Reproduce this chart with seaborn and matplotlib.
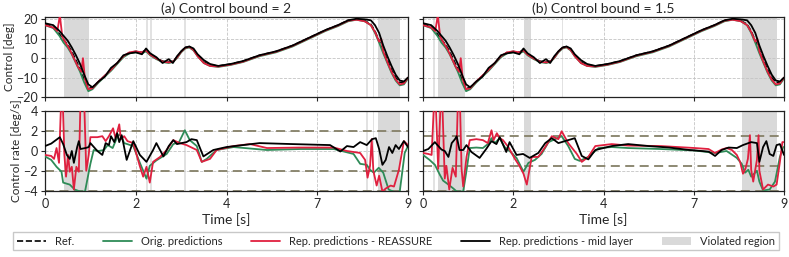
import numpy as np
import pandas as pd
import matplotlib
matplotlib.use("Agg")
import matplotlib.pyplot as plt
import seaborn as sns
from matplotlib.lines import Line2D
from matplotlib.patches import Patch

# ---- control [deg] (top row, same reference in both panels) ----
t_top = [0, 0.2, 0.35, 0.45, 0.55, 0.65, 0.75, 0.85, 0.95, 1.05,
         1.15, 1.3, 1.45, 1.6, 1.75, 1.9, 2.05, 2.2, 2.35, 2.45,
         2.55, 2.7, 2.85, 3.0, 3.1, 3.2, 3.3, 3.4, 3.5, 3.6,
         3.7, 3.85, 4.0, 4.2, 4.5, 4.8, 5.2, 5.6, 6.0, 6.4,
         6.8, 7.1, 7.35, 7.55, 7.75, 7.9, 8.0, 8.1, 8.2, 8.3,
         8.4, 8.5, 8.6, 8.7, 8.8]
ref_ctrl = [17.5, 16, 12.5, 9.5, 7, 3.5, -1, -5.5, -11, -15.5,
            -15, -12, -9, -6, -2.5, 1, 3, 3.5, 3, 4.5,
            2, 0, -1.5, -2, -1.5, 0.5, 3.5, 5.5, 6, 4.5,
            1.5, -2, -3.5, -4, -3, -1.5, 1.5, 3.5, 6.5, 10.5,
            14.5, 17, 19.5, 20, 19.3, 17.5, 14, 9, 4, -1,
            -6, -10, -12.5, -12.5, -10]
orig_ctrl = [17, 15.5, 11.5, 8, 5.5, 2, -2.5, -7, -12.5, -17,
             -16, -12.5, -9.5, -6.5, -3, 0.5, 2.5, 3, 2.5, 3.5,
             1.5, -0.5, -2, -2.5, -2, 0, 3, 5, 5.5, 4,
             1, -2.5, -4, -4.5, -3.5, -2, 1, 3, 6, 10,
             14, 16.5, 19, 19.8, 19, 17, 13, 8, 2.5, -2.5,
             -7.5, -11.5, -14, -13.5, -10.5]
mid_ctrl = [18, 17, 14, 11.5, 9, 5.5, 1.5, -3, -8.5, -13.5,
            -15, -12, -9.5, -5, -2.5, 1.5, 2.5, 3, 2, 5,
            2.5, 0.5, -2.5, -0.5, -2.5, 1, 3.5, 5.5, 6, 5,
            2, -1, -3, -4, -3, -1.5, 1.5, 3.5, 6.5, 10.5,
            14.5, 17, 19.5, 20.3, 20, 19.5, 17, 13, 6.5, 1,
            -4, -8.5, -11.5, -12, -10]
t_rea = [0, 0.2, 0.3, 0.36, 0.42, 0.5, 0.6, 0.7, 0.8, 0.88,
         0.92, 0.97, 1.05, 1.15, 1.3, 1.45, 1.6, 1.75, 1.9, 2.05,
         2.2, 2.35, 2.45, 2.55, 2.7, 2.85, 3.0, 3.1, 3.2, 3.3,
         3.4, 3.5, 3.6, 3.7, 3.85, 4.0, 4.2, 4.5, 4.8, 5.2,
         5.6, 6.0, 6.4, 6.8, 7.1, 7.35, 7.55, 7.75, 7.9, 8.0,
         8.1, 8.15, 8.2, 8.3, 8.4, 8.5, 8.6, 8.7, 8.8]
rea_ctrl = [17, 15.8, 14, 22, 11, 8, 4.5, 0, -4.5, -7,
            0, -11, -16, -15.5, -12, -9, -6, -2.5, 1, 3,
            3.5, 3, 4, 1.8, -0.2, -1.8, -2.2, -1.8, 0.3, 3.3,
            5.3, 5.8, 4.2, 1, -2.5, -4, -4.3, -3.3, -1.8, 1.3,
            3.3, 6.3, 10.3, 14.3, 16.8, 19.3, 19.8, 19, 17, 13.5,
            8.5, 10, 3.5, -2, -7, -11, -13.5, -13, -10]

# ---- control rate [deg/s], panel (a) ----
t_orig_a = [0, 0.15, 0.28, 0.4, 0.44, 0.6, 0.72, 0.85, 0.97, 1.1,
            1.18, 1.3, 1.43, 1.52, 1.64, 1.76, 1.82, 1.92, 2.14, 2.3,
            2.46, 2.54, 2.7, 2.95, 3.11, 3.25, 3.39, 3.51, 3.68, 3.8,
            3.92, 4.16, 4.57, 5.38, 6.19, 7.0, 7.48, 7.64, 7.8, 7.88,
            7.97, 8.09, 8.2, 8.33, 8.49, 8.6, 8.72, 8.8]
orig_rate_a = [-0.55, -0.9, -1.6, -2.1, -3.2, -3.4, -3.9, -4.1, -4.1, -1.3,
               0.1, 0.0, 0.1, 0.6, 0.3, 1.5, 1.7, 0.8, 0.5, -1.2,
               -2.8, -1.5, -0.95, -0.3, 0.7, 0.9, 2.1, 1.1, 0.5, -1.1,
               -0.8, 0.1, 0.4, 0.1, 0.2, 0.2, -0.3, -1.3, -1.4, -1.9,
               -2.2, -1.7, -2.2, -3.9, -4.2, -4.1, -0.2, 0.5]
t_rea_a = [0, 0.15, 0.22, 0.28, 0.34, 0.39, 0.43, 0.47, 0.51, 0.56,
           0.6, 0.65, 0.7, 0.76, 0.82, 0.86, 0.91, 0.95, 1.0, 1.06,
           1.1, 1.27, 1.39, 1.47, 1.55, 1.65, 1.71, 1.8, 1.84, 1.92,
           2.0, 2.14, 2.3, 2.38, 2.46, 2.54, 2.62, 2.79, 2.95, 3.11,
           3.27, 3.43, 3.68, 3.8, 4.0, 4.16, 4.57, 4.97, 5.38, 6.19,
           7.0, 7.32, 7.64, 7.76, 7.82, 7.88, 7.92, 7.96, 8.04, 8.1,
           8.18, 8.26, 8.38, 8.46, 8.58, 8.7, 8.8]
rea_rate_a = [-0.4, -0.5, -0.8, 0.3, -1.2, 5, 5, -0.4, -2.6, -0.4,
              -2.1, -1.6, -3.9, -1.6, -2.1, 5, 5, 5, -2.0, -0.4,
              1.4, 1.4, 1.5, 1.0, 1.5, 2.3, 1.3, 2.7, 1.2, 1.5,
              1.0, 0.8, -1.55, -2.6, -1.6, -3.2, -1.1, -0.6, 0.1, 1.1,
              0.8, 0.6, 0.1, -1.1, -0.8, 0.1, 0.5, 0.7, 0.3, 0.35,
              0.35, 0.0, -0.2, -0.9, -2.7, -1.5, 1.2, -2.0, -3.5, -2.5,
              -4.1, -3.8, -3.5, -3.6, -1.9, 1.0, 0.6]
t_mid_a = [0, 0.15, 0.36, 0.44, 0.53, 0.6, 0.65, 0.7, 0.78, 0.82,
           0.86, 0.98, 1.06, 1.1, 1.27, 1.39, 1.47, 1.55, 1.6, 1.68,
           1.75, 1.8, 1.86, 1.98, 2.14, 2.3, 2.46, 2.62, 2.7, 2.87,
           3.0, 3.11, 3.2, 3.31, 3.43, 3.55, 3.68, 3.84, 4.08, 4.4,
           4.8, 5.2, 6.0, 6.91, 7.16, 7.32, 7.48, 7.64, 7.8, 7.93,
           8.02, 8.1, 8.18, 8.26, 8.34, 8.42, 8.5, 8.58, 8.7, 8.8]
mid_rate_a = [0.5, 0.75, 1.4, 0.7, -0.4, -0.8, 0.0, -1.2, 0.4, 1.0,
              0.2, 0.3, 0.4, 0.8, 0.0, -0.4, 0.8, 0.6, 1.5, 0.9,
              1.8, 0.9, 1.6, -0.9, 1.0, -0.4, -1.1, 0.1, 0.8, -0.55,
              0.5, 1.1, 0.7, 0.8, 0.9, 1.2, 1.1, -0.55, 0.1, 0.4,
              0.6, 0.8, 0.7, 0.6, -0.05, 0.5, 0.4, 0.9, 0.6, 1.2,
              1.3, 0.2, -1.4, -0.9, 0.4, -0.2, 0.6, 0.2, 1.0, 0.4]

# ---- control rate [deg/s], panel (b) ----
t_orig_b = [0, 0.16, 0.29, 0.41, 0.49, 0.62, 0.74, 0.82, 0.98, 1.06,
            1.14, 1.3, 1.46, 1.58, 1.67, 1.75, 1.87, 1.99, 2.11, 2.28,
            2.45, 2.57, 2.73, 2.89, 3.06, 3.22, 3.38, 3.54, 3.7, 3.82,
            4.03, 4.28, 4.6, 5.0, 5.8, 6.63, 7.12, 7.4, 7.65, 7.77,
            7.85, 7.93, 8.0, 8.14, 8.2, 8.29, 8.45, 8.58, 8.7, 8.78, 8.8]
orig_rate_b = [-0.4, -0.9, -1.4, -2.4, -3.0, -3.4, -3.8, -4.1, -4.1, -2.0,
               0.3, 0.35, 0.3, 0.7, 1.3, 0.8, 1.3, 0.4, 0.0, -0.7,
               -2.1, -1.2, -0.9, -0.3, 0.9, 1.2, 1.5, 0.5, -0.8, -1.0,
               -0.6, 0.3, 0.4, 0.3, 0.2, 0.05, -0.2, 0.0, -0.7, -1.3,
               -2.2, -1.9, -2.6, -2.0, -3.1, -4.0, -3.9, -3.1, -0.6, 0.4, 0.4]
t_rea_b = [0, 0.13, 0.21, 0.27, 0.31, 0.37, 0.43, 0.47, 0.53, 0.57,
           0.64, 0.72, 0.8, 0.85, 0.9, 0.94, 0.98, 1.06, 1.14, 1.3,
           1.46, 1.58, 1.67, 1.72, 1.8, 1.87, 1.95, 2.08, 2.24, 2.35,
           2.45, 2.53, 2.65, 2.81, 2.98, 3.14, 3.3, 3.38, 3.54, 3.75,
           3.87, 4.03, 4.2, 4.6, 5.0, 5.8, 6.63, 6.96, 7.12, 7.28,
           7.4, 7.53, 7.65, 7.73, 7.8, 7.86, 7.92, 7.97, 8.0, 8.05,
           8.14, 8.18, 8.2, 8.29, 8.41, 8.54, 8.62, 8.7, 8.76, 8.8]
rea_rate_b = [-0.2, -0.3, -0.4, 5, 5, -1.8, 5, 5, -2.8, -1.5,
              -3.9, -1.7, -2.6, 5, 5, -1.8, -3.6, -0.6, 1.1, 1.2,
              1.1, 0.8, 2.1, 1.1, 1.8, 1.3, 1.1, 0.4, -0.8, -1.5,
              -2.3, -3.4, -0.6, -0.6, 0.4, 1.5, 1.2, 2.0, 0.8, -0.3,
              -1.1, -0.6, 0.5, 0.7, 0.55, 0.5, 0.3, 0.2, -0.2, 0.15,
              0.3, 0.1, -0.4, -1.1, -2.3, -1.8, -0.8, 1.6, -1.9, -3.1,
              -0.9, 1.6, -2.0, -3.9, -3.4, -3.6, -3.4, -1.1, 0.9, 0.9]
t_mid_b = [0, 0.13, 0.29, 0.33, 0.45, 0.53, 0.62, 0.7, 0.78, 0.82,
           0.89, 0.98, 1.06, 1.18, 1.38, 1.54, 1.67, 1.79, 1.87, 2.03,
           2.11, 2.28, 2.44, 2.6, 2.81, 2.98, 3.14, 3.3, 3.46, 3.7,
           3.87, 4.03, 4.2, 4.6, 5.0, 5.5, 6.0, 6.5, 6.96, 7.12,
           7.28, 7.45, 7.65, 7.8, 8.0, 8.14, 8.2, 8.29, 8.37, 8.45,
           8.54, 8.62, 8.7, 8.8]
mid_rate_b = [0.0, 0.2, 0.9, 0.7, 0.15, 0.0, -0.6, 0.8, 1.2, 1.5,
              0.1, 0.1, 0.6, -0.1, -0.7, 0.2, 1.0, 0.7, 1.4, -0.1,
              0.9, -0.4, -0.3, -0.7, -0.2, 0.8, 1.3, 0.8, 1.0, 1.3,
              -0.5, -0.85, 0.1, 0.5, 0.7, 0.5, 0.35, 0.1, -0.06, -0.5,
              0.1, 0.35, 0.3, 0.6, 0.9, 0.8, -1.1, 0.4, 1.0, -0.3,
              -0.5, 0.6, 0.7, -0.4]

# violated regions (start, end) and thin single-step violations
regions_a = [(0.45, 1.06), (8.07, 8.61)]
thin_a = [2.47, 2.57, 3.40, 7.80, 7.96]
regions_b = [(0.37, 1.03), (2.47, 2.63), (7.77, 8.64)]
thin_b = [0.27, 3.40]

bounds = [2, 1.5]
titles = ["(a) Control bound = 2", "(b) Control bound = 1.5"]
xtick_labels = ["0", "2", "4", "7", "9"]

C_ORIG = "#2e8b57"
C_REA = "#e0203f"
C_MID = "black"
C_SPAN = "#d9d9d9"
C_BOUND = "#858068"

sns.set_style("ticks")
plt.rcParams["font.family"] = ["Lato", "DejaVu Sans"]

fig = plt.figure(figsize=(7.89, 2.57), dpi=100)
lefts = [45 / 789, 423 / 789]
widths = [363 / 789, 361 / 789]
top_axes = [fig.add_axes([l, 1 - 97 / 257, w, 80 / 257]) for l, w in zip(lefts, widths)]
bot_axes = [fig.add_axes([l, 1 - 191 / 257, w, 80 / 257]) for l, w in zip(lefts, widths)]

panel_rate = [
    (t_orig_a, orig_rate_a, t_rea_a, rea_rate_a, t_mid_a, mid_rate_a),
    (t_orig_b, orig_rate_b, t_rea_b, rea_rate_b, t_mid_b, mid_rate_b),
]
panel_regions = [(regions_a, thin_a), (regions_b, thin_b)]

for i in range(2):
    ax_t, ax_b = top_axes[i], bot_axes[i]
    regs, thins = panel_regions[i]
    for ax in (ax_t, ax_b):
        for a, b in regs:
            ax.axvspan(a, b, color=C_SPAN, lw=0, zorder=0)
        for c in thins:
            ax.axvspan(c - 0.02, c + 0.02, color="#e2e2e2", lw=0, zorder=0)
        ax.grid(True, ls="--", lw=0.6, color="#c4c4c4")
        ax.set_axisbelow(True)
        ax.set_xlim(0, 8.8)
        ax.set_xticks(np.linspace(0, 8.8, 5))
        ax.tick_params(labelsize=9, length=3, width=0.8, pad=2)

    # top: control
    sns.lineplot(x=t_top, y=ref_ctrl, ax=ax_t, color="black", lw=1.1,
                 linestyle="--", zorder=2)
    sns.lineplot(x=t_top, y=orig_ctrl, ax=ax_t, color=C_ORIG, lw=1.3, zorder=3)
    sns.lineplot(x=t_rea, y=rea_ctrl, ax=ax_t, color=C_REA, lw=1.3, zorder=4)
    sns.lineplot(x=t_top, y=mid_ctrl, ax=ax_t, color=C_MID, lw=1.3, zorder=5)
    ax_t.set_ylim(-20, 21.2)
    ax_t.set_yticks([-20, -10, 0, 10, 20])
    ax_t.set_xticklabels([])
    ax_t.set_title(titles[i], fontsize=10, pad=3)

    # bottom: control rate
    to, vo, tr, vr, tm, vm = panel_rate[i]
    bd = bounds[i]
    for yv in (bd, -bd, 4, -4):
        ax_b.axhline(yv, color=C_BOUND, ls="--", lw=1.3, dashes=(5, 3), zorder=1)
    sns.lineplot(x=to, y=vo, ax=ax_b, color=C_ORIG, lw=1.3, zorder=3)
    sns.lineplot(x=tr, y=vr, ax=ax_b, color=C_REA, lw=1.3, zorder=4)
    sns.lineplot(x=tm, y=vm, ax=ax_b, color=C_MID, lw=1.3, zorder=5)
    ax_b.set_ylim(-4.05, 4.05)
    ax_b.set_yticks([-4, -2, 0, 2, 4])
    ax_b.set_xticklabels(xtick_labels)
    ax_b.set_xlabel("Time [s]", fontsize=10, labelpad=2)

    if i == 0:
        ax_t.set_ylabel("Control [deg]", fontsize=8.5, labelpad=1)
        ax_b.set_ylabel("Control rate [deg/s]", fontsize=8.5, labelpad=1)
    else:
        ax_t.set_yticklabels([])
        ax_b.set_yticklabels([])
        ax_t.set_ylabel("")
        ax_b.set_ylabel("")

    for ax in (ax_t, ax_b):
        for s in ax.spines.values():
            s.set_linewidth(0.9)
            s.set_color("#222222")

handles = [
    Line2D([], [], color="black", ls="--", lw=1.2),
    Line2D([], [], color=C_ORIG, lw=1.3),
    Line2D([], [], color=C_REA, lw=1.3),
    Line2D([], [], color=C_MID, lw=1.3),
    Patch(facecolor=C_SPAN, edgecolor="none"),
]
labels = ["Ref.", "Orig. predictions", "Rep. predictions - REASSURE",
          "Rep. predictions - mid layer", "Violated region"]
fig.legend(handles, labels, loc="center", bbox_to_anchor=(0.502, 0.062),
           ncol=5, fontsize=8, frameon=True, handlelength=2.6,
           columnspacing=2.6, handletextpad=0.8, borderpad=0.35,
           fancybox=False, edgecolor="#bbbbbb")

fig.savefig("out.png", dpi=100)
